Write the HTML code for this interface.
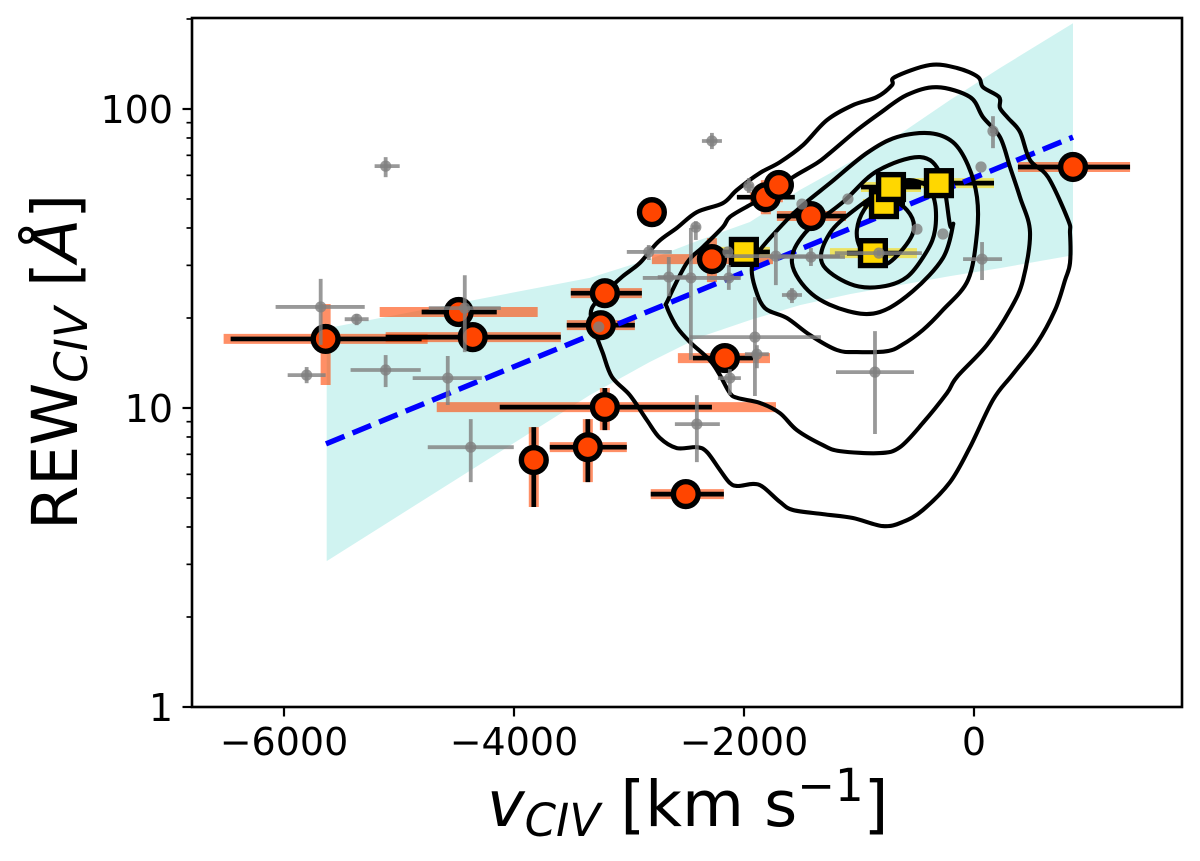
<!DOCTYPE html>
<html lang="en">
<head>
<meta charset="utf-8">
<title>REW CIV versus v CIV</title>
<style>
html,body{margin:0;padding:0;background:#fff;}
svg{display:block;}
text{font-family:"DejaVu Sans","Liberation Sans",sans-serif;fill:#000;}
</style>
</head>
<body>
<svg id="chart" xmlns="http://www.w3.org/2000/svg" width="1200" height="861" viewBox="0 0 1200 861">
  <rect x="0" y="0" width="1200" height="861" fill="#fff"/>
  <g id="plot"></g>
  <g id="axes"></g>
  <text x="487" y="826" font-size="63.6"><tspan font-style="italic">v</tspan><tspan font-style="italic" font-size="45" dy="10">CIV</tspan><tspan dy="-10" xml:space="preserve"> [km s</tspan><tspan font-size="45" dy="-25">−1</tspan><tspan dy="25">]</tspan></text>
  <text transform="translate(77,530) rotate(-90)" x="0" y="0" font-size="63.6">REW<tspan font-style="italic" font-size="45" dy="10">CIV</tspan><tspan dy="-10" xml:space="preserve"> [</tspan><tspan font-style="italic">Å</tspan><tspan>]</tspan></text>
</svg>
<script>
// ---------- axis configuration ----------
const xTickValues = [-6000, -4000, -2000, 0];
const xTickLabels = ['−6000', '−4000', '−2000', '0'];
const yTickValues = [1, 10, 100];
const yTickLabels = ['1', '10', '100'];
const yMinorValues = [2,3,4,5,6,7,8,9,20,30,40,50,60,70,80,90,200];

// ---------- orange-circle sample (km/s, log10 of REW in Å) ----------
const circleVel = [-5638,-4481,-4359,-3210,-3245,-3210,-3358,-3828,-2506,-2166,-2279,-2801,-1810,-1697,-1418,861];
const circleLogRew = [1.231,1.321,1.237,1.384,1.277,1.003,0.869,0.826,0.712,1.167,1.498,1.655,1.705,1.746,1.642,1.806];
const circleVelErrLo = [826,322,757,296,296,914,331,0,305,278,104,0,252,130,296,479];
const circleVelErrHi = [835,331,766,322,296,931,339,0,331,244,104,0,252,130,305,496];
const circleLogErrUp = [0,0,0,0,0,0.064,0.094,0.110,0,0,0,0,0,0,0,0];
const circleLogErrDown = [0,0,0,0,0,0.077,0.117,0.157,0,0,0,0,0,0,0,0];
const circleSysVelLo = [887,687,757,296,296,1462,331,0,305,409,522,0,139,0,296,479];
const circleSysVelHi = [887,687,766,322,296,1488,339,0,331,392,531,0,148,0,305,496];
const circleSysLogUp = [0.117,0,0,0,0,0.064,0.094,0.110,0,0.047,0.070,0,0.057,0,0,0];
const circleSysLogDown = [0.154,0,0,0,0,0.077,0.117,0.157,0,0.047,0.077,0,0.057,0,0,0];

// ---------- gold-square sample ----------
const squareVel = [-2001,-783,-722,-305,-879];
const squareLogRew = [1.522,1.682,1.739,1.752,1.518];
const squareVelErrLo = [226,183,261,470,226];
const squareVelErrHi = [226,183,261,479,235];
const squareSysVelLo = [226,183,261,470,374];
const squareSysVelHi = [226,183,261,479,383];

// ---------- grey comparison sample ----------
const greyVel = [-5116,-5681,-5368,-5803,-5116,-4576,-4428,-4376,-2410,-861,-1905,-1888,-2123,-1583,-3263,-2462,-2419,-2654,-2828,-2132,-1723,-1418,-827,-2279,-1958,-2140,-1496,-1096,-496,-270,70,165,61];
const greyLogRew = [1.809,1.338,1.297,1.110,1.127,1.100,1.334,0.869,0.946,1.120,1.237,1.180,1.100,1.378,1.271,1.435,1.605,1.438,1.522,1.435,1.508,1.505,1.518,1.893,1.742,1.522,1.682,1.699,1.598,1.582,1.498,1.926,1.806];
const greyVelErrLo = [96,392,104,165,305,305,313,374,191,339,566,104,104,87,0,418,35,96,191,165,444,357,383,87,35,0,0,0,0,0,165,26,0];
const greyVelErrHi = [122,383,104,165,305,296,313,374,200,339,574,104,96,87,0,435,35,183,200,96,557,296,374,87,35,0,0,0,0,0,174,26,0];
const greyLogErrUp = [0.030,0.094,0.017,0.027,0.050,0.074,0.110,0.094,0.097,0.137,0.134,0.030,0.030,0.023,0,0.167,0.020,0.067,0.023,0.043,0.080,0.030,0.010,0.027,0.027,0,0,0,0,0,0.057,0.050,0];
const greyLogErrDown = [0.037,0.127,0.020,0.027,0.057,0.090,0.147,0.117,0.127,0.207,0.197,0.047,0.057,0.027,0,0.274,0.043,0.064,0.027,0.040,0.097,0.030,0.010,0.027,0.023,0,0,0,0,0,0.070,0.057,0];

// ---------- best-fit line and its confidence band ----------
const fitVel = [-5635, 861];
const fitLogRew = [0.880, 1.906];
const bandVel = [-5629,-3341,-2819,-2384,-1949,-1514,-1079,-644,-209,226,861];
const bandLogUpper = [1.267,1.435,1.498,1.562,1.622,1.729,1.822,1.916,2.030,2.137,2.287];
const bandLogLower = [0.488,1.043,1.154,1.237,1.294,1.344,1.381,1.411,1.441,1.468,1.511];

// ---------- density contours, outermost to innermost ----------
const contour1Vel = [-792,-1053,-1314,-1575,-1688,-1836,-1923,-2053,-2123,-2210,-2323,-2410,-2584,-2732,-2845,-2993,-3149,-3228,-3280,-3323,-3323,-3210,-3062,-2906,-2749,-2584,-2410,-2184,-2062,-1862,-1688,-1488,-1279,-1053,-844,-713,-687,-383,-148,35,78,218,226,296,400,487,644,818,835,835,792,705,548,331,165,-35,-209,-444,-618];
const contour1Log = [0.605,0.632,0.645,0.659,0.686,0.736,0.746,0.739,0.749,0.793,0.853,0.869,0.866,0.900,0.960,1.043,1.104,1.184,1.237,1.287,1.334,1.384,1.438,1.485,1.555,1.602,1.655,1.685,1.729,1.786,1.822,1.879,1.963,2.013,2.040,2.080,2.107,2.147,2.137,2.107,2.073,2.040,2.003,1.970,1.923,1.829,1.772,1.629,1.585,1.485,1.428,1.328,1.217,1.110,1.027,0.869,0.752,0.659,0.619];
const contour2Vel = [-818,-1166,-1314,-1540,-1688,-1862,-2053,-2123,-2210,-2297,-2471,-2584,-2671,-2662,-2497,-2358,-2184,-2123,-1949,-1714,-1575,-1366,-1253,-1018,-818,-583,-322,-35,78,226,313,400,487,426,313,113,-148,-235,-444,-644];
const contour2Log = [0.849,0.856,0.876,0.926,0.983,1.017,1.033,1.050,1.110,1.160,1.221,1.271,1.338,1.361,1.485,1.538,1.605,1.639,1.679,1.729,1.772,1.819,1.853,1.929,1.986,2.047,2.073,2.040,1.973,1.906,1.806,1.705,1.588,1.428,1.328,1.211,1.104,1.050,0.950,0.869];
const contour3Vel = [-1018,-1192,-1427,-1627,-1818,-1905,-1931,-1862,-1627,-1488,-1253,-931,-670,-383,-183,-52,26,26,-52,-270,-444,-626,-757];
const contour3Log = [1.187,1.194,1.244,1.301,1.334,1.404,1.471,1.528,1.629,1.679,1.752,1.853,1.906,1.919,1.889,1.812,1.705,1.585,1.428,1.328,1.261,1.211,1.190];
const contour4Vel = [-1583,-1470,-1139,-844,-470,-287,-209,-183,-270,-531,-818,-1096,-1409];
const contour4Log = [1.485,1.585,1.689,1.792,1.839,1.779,1.612,1.612,1.502,1.391,1.321,1.324,1.381];
const contour5Vel = [-1322,-1253,-1018,-783,-583,-409,-339,-339,-409,-583,-818,-1079];
const contour5Log = [1.485,1.585,1.669,1.729,1.762,1.742,1.685,1.595,1.525,1.438,1.405,1.415];
const contour6Vel = [-1018,-992,-879,-731,-531,-583,-818,-957];
const contour6Log = [1.595,1.538,1.488,1.488,1.585,1.662,1.712,1.662];
const contourVels = [contour1Vel, contour2Vel, contour3Vel, contour4Vel, contour5Vel, contour6Vel];
const contourLogs = [contour1Log, contour2Log, contour3Log, contour4Log, contour5Log, contour6Log];

// ---------- axis functions ----------
const frameLeft = 192, frameRight = 1182, frameTop = 18, frameBottom = 707;
const xZeroPx = 974, xPxPerKms = 0.115, yDecadePx = 299;
function X(v){ return xZeroPx + v * xPxPerKms; }
function Y(logRew){ return frameBottom - yDecadePx * logRew; }

const NS = 'http://www.w3.org/2000/svg';
const plot = document.getElementById('plot');
const axes = document.getElementById('axes');
function mk(parent, tag, attrs){
  const el = document.createElementNS(NS, tag);
  for (const k in attrs) el.setAttribute(k, attrs[k]);
  parent.appendChild(el);
  return el;
}
function closedSmoothPath(px, py){
  const n = px.length;
  let d = 'M' + px[0].toFixed(1) + ' ' + py[0].toFixed(1);
  for (let i = 0; i < n; i++){
    const a = (i - 1 + n) % n, b = (i + 1) % n, c = (i + 2) % n;
    const c1x = px[i] + (px[b] - px[a]) / 6, c1y = py[i] + (py[b] - py[a]) / 6;
    const c2x = px[b] - (px[c] - px[i]) / 6, c2y = py[b] - (py[c] - py[i]) / 6;
    d += 'C' + c1x.toFixed(1) + ' ' + c1y.toFixed(1) + ' ' + c2x.toFixed(1) + ' ' + c2y.toFixed(1) + ' ' + px[b].toFixed(1) + ' ' + py[b].toFixed(1);
  }
  return d + 'Z';
}

// ---------- confidence band ----------
let bandPts = [];
bandVel.forEach((v, i) => bandPts.push(X(v).toFixed(1) + ',' + Y(bandLogUpper[i]).toFixed(1)));
for (let i = bandVel.length - 1; i >= 0; i--) bandPts.push(X(bandVel[i]).toFixed(1) + ',' + Y(bandLogLower[i]).toFixed(1));
const band = mk(plot, 'polygon', {points: bandPts.join(' '), fill: '#d0f3f1'});



// ---------- thick (semi-transparent) error bars ----------
function hBar(parent, v, lr, lo, hi, color, width, opacity){
  return mk(parent, 'line', {x1: X(v - lo), x2: X(v + hi), y1: Y(lr), y2: Y(lr), stroke: color, 'stroke-width': width, 'stroke-opacity': opacity});
}
function vBar(parent, v, lr, up, down, color, width, opacity){
  return mk(parent, 'line', {x1: X(v), x2: X(v), y1: Y(lr + up), y2: Y(lr - down), stroke: color, 'stroke-width': width, 'stroke-opacity': opacity});
}
circleVel.forEach((v, i) => {
  if (circleSysVelLo[i] + circleSysVelHi[i] > 0) {
    const el = hBar(plot, v, circleLogRew[i], circleSysVelLo[i], circleSysVelHi[i], '#ff4500', 10, 0.6);
    
    
  }
  if (circleSysLogUp[i] + circleSysLogDown[i] > 0) {
    const el = vBar(plot, v, circleLogRew[i], circleSysLogUp[i], circleSysLogDown[i], '#ff4500', 10, 0.6);
    
    
  }
});
squareVel.forEach((v, i) => {
  const el = hBar(plot, v, squareLogRew[i], squareSysVelLo[i], squareSysVelHi[i], '#ffd700', 10, 0.6);
  
  
});

// ---------- thin black error bars ----------
circleVel.forEach((v, i) => {
  if (circleVelErrLo[i] + circleVelErrHi[i] > 0) {
    const el = hBar(plot, v, circleLogRew[i], circleVelErrLo[i], circleVelErrHi[i], '#000', 4.7, 1);
    
    
  }
  if (circleLogErrUp[i] + circleLogErrDown[i] > 0) {
    const el = vBar(plot, v, circleLogRew[i], circleLogErrUp[i], circleLogErrDown[i], '#000', 4.7, 1);
    
    
  }
});
squareVel.forEach((v, i) => {
  const el = hBar(plot, v, squareLogRew[i], squareVelErrLo[i], squareVelErrHi[i], '#000', 4.7, 1);
  
  
});

// ---------- best-fit line ----------
const fit = mk(plot, 'line', {x1: X(fitVel[0]), y1: Y(fitLogRew[0]), x2: X(fitVel[1]), y2: Y(fitLogRew[1]), stroke: '#0000ff', 'stroke-width': 5.4, 'stroke-dasharray': '20 8.7'});



// ---------- contours ----------
contourVels.forEach((vels, c) => {
  const path = mk(plot, 'path', {
    d: closedSmoothPath(vels.map(X), contourLogs[c].map(Y)),
    fill: 'none', stroke: '#000', 'stroke-width': 4.1, 'stroke-linejoin': 'round'
  });
  
  
});

// ---------- circles ----------
circleVel.forEach((v, i) => {
  const el = mk(plot, 'circle', {cx: X(v), cy: Y(circleLogRew[i]), r: 12.4, fill: '#ff4500', stroke: '#000', 'stroke-width': 5.4});
  
  
});

// ---------- squares ----------
squareVel.forEach((v, i) => {
  const el = mk(plot, 'rect', {x: X(v) - 12.4, y: Y(squareLogRew[i]) - 12.4, width: 24.8, height: 24.8, fill: '#ffd700', stroke: '#000', 'stroke-width': 5.4});
  
  
});

// ---------- grey sample ----------
greyVel.forEach((v, i) => {
  if (greyVelErrLo[i] + greyVelErrHi[i] > 0) {
    const el = hBar(plot, v, greyLogRew[i], greyVelErrLo[i], greyVelErrHi[i], '#808080', 3.8, 0.8);
    
    
  }
  if (greyLogErrUp[i] + greyLogErrDown[i] > 0) {
    const el = vBar(plot, v, greyLogRew[i], greyLogErrUp[i], greyLogErrDown[i], '#808080', 3.8, 0.8);
    
    
  }
  const dot = mk(plot, 'circle', {cx: X(v), cy: Y(greyLogRew[i]), r: 5.6, fill: '#808080', 'fill-opacity': 0.8});
  
  
});

// ---------- frame, ticks, tick labels ----------
const frame = mk(axes, 'rect', {x: frameLeft, y: frameTop, width: frameRight - frameLeft, height: frameBottom - frameTop, fill: 'none', stroke: '#000', 'stroke-width': 2.6});



xTickValues.forEach((v, i) => {
  const t = mk(axes, 'line', {x1: X(v), x2: X(v), y1: frameBottom, y2: frameBottom + 9.5, stroke: '#000', 'stroke-width': 2.2});
  
  
  const lab = mk(axes, 'text', {x: X(v), y: 755, 'font-size': 38, 'text-anchor': 'middle'});
  lab.textContent = xTickLabels[i];
  
  
});
yTickValues.forEach((val, i) => {
  const y = Y(Math.log10(val));
  const t = mk(axes, 'line', {x1: frameLeft - 9.5, x2: frameLeft, y1: y, y2: y, stroke: '#000', 'stroke-width': 2.2});
  
  
  const lab = mk(axes, 'text', {x: 173, y: y + 14, 'font-size': 38, 'text-anchor': 'end'});
  lab.textContent = yTickLabels[i];
  
  
});
yMinorValues.forEach(val => {
  const y = Y(Math.log10(val));
  const t = mk(axes, 'line', {x1: frameLeft - 5.5, x2: frameLeft, y1: y, y2: y, stroke: '#000', 'stroke-width': 1.7});
  
  
});
</script>
</body>
</html>
